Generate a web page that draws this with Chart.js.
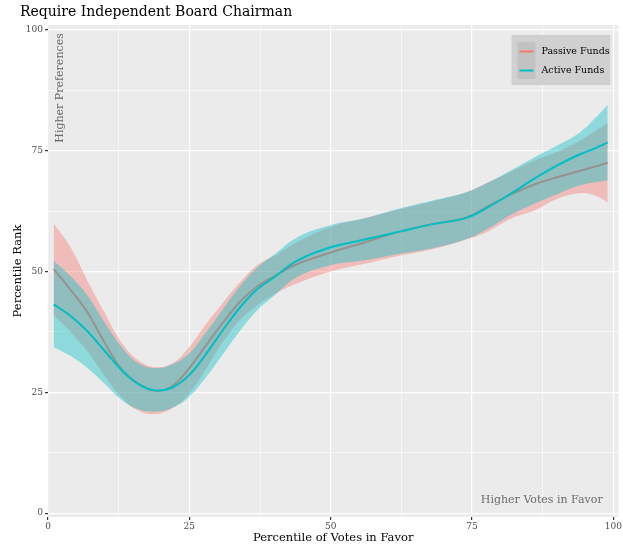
<!DOCTYPE html>
<html>
<head>
<meta charset="utf-8">
<script src="https://cdn.jsdelivr.net/npm/chart.js@4"></script>
<style>
  html, body { margin: 0; padding: 0; background: #fff; }
</style>
</head>
<body>
<canvas id="chart" width="623" height="550"></canvas>
<script>
// data
const chartTitle = "Require Independent Board Chairman";
const seriesNames = ["Passive Funds", "Active Funds"];
const xVals = [1, 4, 7, 10, 13, 16, 19, 22, 25, 28, 31, 34, 37, 40, 44, 50, 56, 62, 68, 74, 78, 82, 86, 90, 94, 97, 99];

const passiveFit = [50.5, 46.2, 41.5, 35.3, 29.8, 26.8, 25.3, 26.3, 30.0, 34.8, 39.5, 43.8, 46.9, 49.0, 51.5, 53.9, 56.0, 58.2, 59.8, 61.2, 63.6, 66.0, 68.0, 69.5, 70.8, 71.8, 72.5];
const passiveLow = [41.0, 37.5, 33.5, 28.5, 24.0, 21.2, 20.5, 21.7, 24.8, 30.0, 35.5, 40.0, 43.0, 45.3, 47.5, 50.0, 51.6, 53.2, 54.6, 56.6, 58.4, 61.0, 62.6, 65.0, 66.2, 65.6, 64.2];
const passiveHigh = [60.0, 55.0, 48.0, 41.5, 35.3, 31.6, 30.2, 31.0, 34.4, 39.2, 43.6, 47.8, 51.3, 53.2, 56.0, 59.2, 61.0, 62.8, 64.5, 66.4, 68.5, 70.7, 72.9, 74.7, 77.0, 79.2, 80.7];

const activeFit = [43.2, 40.8, 37.6, 33.6, 29.6, 26.7, 25.4, 26.0, 28.6, 33.0, 38.0, 42.6, 46.3, 48.8, 52.2, 55.0, 56.6, 58.2, 59.8, 61.1, 63.4, 66.2, 69.2, 71.9, 74.2, 75.6, 76.7];
const activeLow = [34.4, 32.5, 30.0, 26.8, 23.4, 21.5, 21.0, 21.8, 24.1, 28.2, 33.0, 37.8, 42.0, 45.0, 48.8, 51.3, 52.3, 53.6, 54.8, 56.7, 59.0, 61.8, 64.0, 66.0, 67.8, 68.5, 68.9];
const activeHigh = [52.2, 49.0, 45.0, 39.5, 34.4, 31.0, 30.0, 30.8, 33.1, 37.5, 42.3, 47.0, 50.8, 53.5, 57.0, 59.6, 61.0, 63.0, 64.7, 66.4, 68.5, 71.0, 73.6, 76.0, 78.7, 82.0, 84.5];

const tickVals = [0, 12.5, 25, 37.5, 50, 62.5, 75, 87.5, 100];

const pink = "#F8766D";
const teal = "#00BFC4";
const serif = "'DejaVu Serif', 'Liberation Serif', serif";

function pts(ys) {
  return xVals.map((x, i) => ({ x, y: ys[i] }));
}

function isMajor(v) {
  return v % 25 === 0;
}

const band = (label, ys, color, fill, order) => ({
  label,
  data: pts(ys),
  borderWidth: 0,
  pointRadius: 0,
  backgroundColor: color,
  fill,
  order,
  tension: 0.4,
});

const fitLine = (label, ys, color, order) => ({
  label,
  data: pts(ys),
  borderColor: color,
  borderWidth: 2,
  pointRadius: 0,
  fill: false,
  order,
  tension: 0.4,
});

const gridOpts = {
  color: "#FFFFFF",
  lineWidth: (c) => (c.tick && isMajor(c.tick.value) ? 1.2 : 0.6),
  tickColor: (c) => (c.tick && isMajor(c.tick.value) ? "#333333" : "rgba(0,0,0,0)"),
  tickLength: 3,
  drawTicks: true,
};

const decor = {
  id: "decor",
  beforeDraw(chart) {
    const { ctx, chartArea: a } = chart;
    ctx.save();
    ctx.fillStyle = "#EBEBEB";
    ctx.fillRect(a.left, a.top, a.right - a.left, a.bottom - a.top);
    ctx.restore();
  },
  afterDraw(chart) {
    const { ctx, chartArea: a, scales } = chart;
    const x = scales.x, y = scales.y;
    ctx.save();

    // title
    ctx.fillStyle = "#000";
    ctx.font = "14px " + serif;
    ctx.textAlign = "left";
    ctx.textBaseline = "middle";
    ctx.fillText(chartTitle, 20, 12);

    // corner notes
    ctx.fillStyle = "#6b6b6b";
    ctx.font = "11px " + serif;
    ctx.save();
    ctx.translate(x.getPixelForValue(2.1), y.getPixelForValue(99.3));
    ctx.rotate(-Math.PI / 2);
    ctx.textAlign = "right";
    ctx.fillText("Higher Preferences", 0, 0);
    ctx.restore();
    ctx.textAlign = "right";
    ctx.fillText("Higher Votes in Favor", x.getPixelForValue(98.1), y.getPixelForValue(2.7));

    // legend
    const bx = a.right - 107, by = a.top + 10;
    ctx.fillStyle = "#D0D0D0";
    ctx.fillRect(bx, by, 99, 50);
    ctx.fillStyle = "#C2C2C2";
    ctx.fillRect(bx + 6, by + 7, 18, 37);
    const colors = [pink, teal];
    ctx.font = "9.5px " + serif;
    ctx.textAlign = "left";
    seriesNames.forEach((name, i) => {
      const ly = by + 16.5 + i * 19;
      ctx.strokeStyle = colors[i];
      ctx.lineWidth = 2;
      ctx.beginPath();
      ctx.moveTo(bx + 8, ly);
      ctx.lineTo(bx + 22, ly);
      ctx.stroke();
      ctx.fillStyle = "#000";
      ctx.fillText(name, bx + 30, ly);
    });
    ctx.restore();
  },
};

new Chart(document.getElementById("chart"), {
  type: "line",
  data: {
    datasets: [
      band(seriesNames[0] + " high", passiveHigh, "rgba(248,118,109,0.4)", "+1", 6),
      band(seriesNames[0] + " low", passiveLow, "rgba(0,0,0,0)", false, 5),
      fitLine(seriesNames[0], passiveFit, pink, 4),
      band(seriesNames[1] + " high", activeHigh, "rgba(0,191,196,0.4)", "+1", 3),
      band(seriesNames[1] + " low", activeLow, "rgba(0,0,0,0)", false, 2),
      fitLine(seriesNames[1], activeFit, teal, 1),
    ],
  },
  options: {
    responsive: false,
    animation: false,
    devicePixelRatio: 1,
    layout: { padding: { top: 25, right: 3, left: 0, bottom: 0 } },
    plugins: {
      legend: { display: false },
      tooltip: { enabled: false },
      title: { display: false },
    },
    scales: {
      x: {
        type: "linear",
        min: 0,
        max: 100.9,
        afterBuildTicks: (s) => { s.ticks = tickVals.map((v) => ({ value: v })); },
        afterFit: (s) => { s.height = 33; },
        grid: gridOpts,
        border: { display: false },
        ticks: {
          autoSkip: false,
          maxRotation: 0,
          padding: 1,
          color: "#4D4D4D",
          font: { family: serif, size: 9 },
          callback: (v) => (isMajor(v) ? String(v) : ""),
        },
        title: {
          display: true,
          text: "Percentile of Votes in Favor",
          color: "#000",
          font: { family: serif, size: 11.5 },
          padding: { top: 0, bottom: 5 },
        },
      },
      y: {
        type: "linear",
        min: -0.8,
        max: 101,
        afterBuildTicks: (s) => { s.ticks = tickVals.map((v) => ({ value: v })); },
        afterFit: (s) => { s.width = 48; },
        grid: gridOpts,
        border: { display: false },
        ticks: {
          autoSkip: false,
          padding: 2,
          color: "#4D4D4D",
          font: { family: serif, size: 9 },
          callback: (v) => (isMajor(v) ? String(v) : ""),
        },
        title: {
          display: true,
          text: "Percentile Rank",
          color: "#000",
          font: { family: serif, size: 11.5 },
          padding: { top: 11, bottom: 0 },
        },
      },
    },
  },
  plugins: [decor],
});
</script>
</body>
</html>
